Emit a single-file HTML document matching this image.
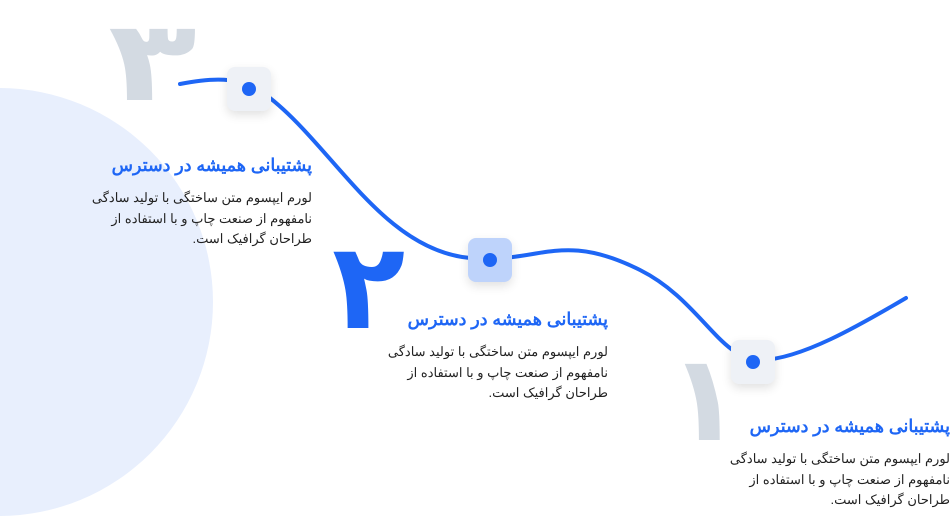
<!DOCTYPE html>
<html><head><meta charset="utf-8"><style>
body{margin:0;width:951px;height:523px;overflow:hidden;background:#fff;position:relative;font-family:"Liberation Sans","Noto Sans CJK SC",sans-serif}
.circ{position:absolute;left:-215px;top:88px;width:428px;height:428px;border-radius:50%;background:#e8effd}
.num{position:absolute;font-weight:bold;line-height:1;font-family:"DejaVu Sans",sans-serif}
.node{position:absolute;width:44px;height:44px;border-radius:8px;background:#eef1f6;box-shadow:0 4px 10px rgba(0,0,0,.12)}
.node::after{content:"";position:absolute;left:15px;top:15px;width:14px;height:14px;border-radius:50%;background:#1e66f5}
.blk{position:absolute;direction:rtl;text-align:right;width:260px}
.blk h3{margin:0 0 12px;font-size:17.5px;color:#1e66f5;font-weight:bold;white-space:nowrap}
.blk p{margin:0;font-size:13px;line-height:20.5px;color:#222}
</style></head><body>
<div class="circ"></div>
<div class="num" style="left:108px;top:6px;font-size:112px;color:#d3dae2;transform:scaleX(1.3);transform-origin:left top">۳</div>
<div class="num" style="left:332px;top:228px;font-size:120px;color:#1e66f5">۲</div>
<div class="num" style="left:668px;top:340px;font-size:120px;color:#d3dae2">۱</div>
<svg style="position:absolute;left:0;top:0" width="951" height="523">
<path d="M180,84 C210,78 240,76 262,92 C330,140 380,250 470,258 C540,264 560,230 640,270 C700,300 720,360 760,360 C800,360 860,325 906,298" fill="none" stroke="#1e66f5" stroke-width="4" stroke-linecap="round"/>
</svg>
<div class="node" style="left:227px;top:67px"></div>
<div class="node" style="left:468px;top:238px;background:#bed3fb"></div>
<div class="node" style="left:731px;top:340px"></div>
<div class="blk" style="left:52px;top:155px"><h3>پشتیبانی همیشه در دسترس</h3><p>لورم ایپسوم متن ساختگی با تولید سادگی<br>نامفهوم از صنعت چاپ و با استفاده از<br>طراحان گرافیک است.</p></div>
<div class="blk" style="left:348px;top:309px"><h3>پشتیبانی همیشه در دسترس</h3><p>لورم ایپسوم متن ساختگی با تولید سادگی<br>نامفهوم از صنعت چاپ و با استفاده از<br>طراحان گرافیک است.</p></div>
<div class="blk" style="left:690px;top:416px"><h3>پشتیبانی همیشه در دسترس</h3><p>لورم ایپسوم متن ساختگی با تولید سادگی<br>نامفهوم از صنعت چاپ و با استفاده از<br>طراحان گرافیک است.</p></div>
</body></html>
